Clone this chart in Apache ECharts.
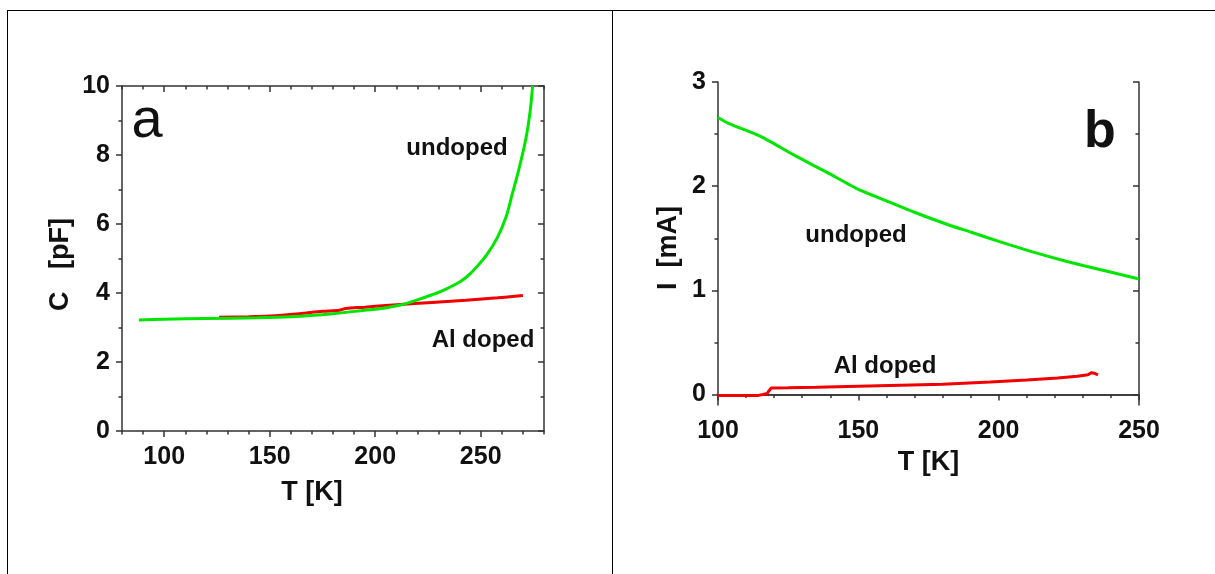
<!DOCTYPE html>
<html><head><meta charset="utf-8">
<script src="https://cdn.jsdelivr.net/npm/echarts@6/dist/echarts.min.js"></script>
<style>html,body{margin:0;padding:0;background:#fff}#c{width:1215px;height:574px}</style>
</head><body><div id="c"></div>
<script>
// ---- Panel a: capacitance vs temperature ----
const capUndoped = [[88,3.22],[100,3.24],[120,3.26],[144,3.28],[160,3.31],[180,3.40],[195,3.50],[204,3.56],[212,3.65],[220,3.80],[227,3.95],[232,4.07],[240,4.32],[244,4.50],[248,4.75],[253,5.12],[258,5.62],[262,6.20],[265,6.88],[268,7.56],[271.5,8.50],[273.5,9.30],[274.6,10.0]];
const capAlDoped = [[126,3.30],[140,3.31],[150,3.33],[164,3.40],[175,3.47],[183,3.50],[186,3.55],[195,3.59],[205,3.64],[212,3.67],[225,3.72],[243,3.79],[258,3.86],[270,3.93]];
const capTempMajor = [100,150,200,250];
const capTempMinor = [80,90,110,120,130,140,160,170,180,190,210,220,230,240,260,270,280];

// ---- Panel b: current vs temperature ----
const curUndoped = [[100,2.66],[104,2.60],[115,2.48],[127,2.30],[139,2.13],[150,1.97],[160,1.86],[170,1.75],[182,1.63],[190,1.56],[200,1.47],[212,1.37],[224,1.28],[236,1.20],[250,1.11]];
const curAlDoped = [[100,-0.01],[114,-0.01],[116,0.0],[117.5,0.01],[118,0.03],[119,0.064],[125,0.065],[135,0.07],[150,0.08],[165,0.09],[180,0.10],[197,0.12],[210,0.14],[221,0.16],[228,0.175],[231.8,0.19],[233,0.21],[234,0.205],[235.4,0.19]];
const curMajor = [0,1,2,3];
const curMinor = [0.5,1.5,2.5];

const FONT = '"Liberation Sans", Arial, sans-serif';
const AX = '#333';
const GREEN = '#00e600';
const RED = '#f00000';

function lineStyle(){ return {color: AX, width: 1.5}; }
function lbl(){ return {color:'#111', fontFamily: FONT, fontWeight:'bold', fontSize: 25}; }

const chart = echarts.init(document.getElementById('c'));
const option = {
  animation: false,
  backgroundColor: '#fff',
  grid: [
    {left: 122, top: 86, width: 422, height: 345},
    {left: 718, top: 82, width: 421, height: 323}
  ],
  xAxis: [
    {type:'value', gridIndex:0, min:80, max:280, position:'bottom',
     name:'T [K]', nameLocation:'middle', nameGap:48,
     nameTextStyle:{fontFamily:FONT, fontWeight:'bold', fontSize:27, color:'#111', padding:[0,42,0,0]},
     axisLine:{show:true, lineStyle:lineStyle()},
     axisTick:{show:true, length:6, lineStyle:lineStyle(), customValues:capTempMajor},
     axisLabel:Object.assign(lbl(), {margin:14, customValues:capTempMajor}),
     splitLine:{show:false}},
    {type:'value', gridIndex:0, min:80, max:280, position:'bottom',
     axisLine:{show:false}, axisLabel:{show:false}, splitLine:{show:false},
     axisTick:{show:true, length:3.5, lineStyle:lineStyle(), customValues:capTempMinor}},
    {type:'value', gridIndex:0, min:80, max:280, position:'top',
     axisLine:{show:true, lineStyle:lineStyle()}, axisLabel:{show:false}, splitLine:{show:false},
     axisTick:{show:true, inside:true, length:6, lineStyle:lineStyle(), customValues:capTempMajor}},
    {type:'value', gridIndex:0, min:80, max:280, position:'top',
     axisLine:{show:false}, axisLabel:{show:false}, splitLine:{show:false},
     axisTick:{show:true, inside:true, length:3.5, lineStyle:lineStyle(), customValues:capTempMinor}},
    {type:'value', gridIndex:1, min:100, max:250, interval:50, position:'bottom',
     name:'T [K]', nameLocation:'middle', nameGap:40,
     nameTextStyle:{fontFamily:FONT, fontWeight:'bold', fontSize:27, color:'#111'},
     axisLine:{show:true, lineStyle:lineStyle()},
     axisTick:{show:true, length:6, lineStyle:lineStyle()},
     minorTick:{show:true, splitNumber:5, length:3.5, lineStyle:lineStyle()},
     axisLabel:Object.assign(lbl(), {margin:14}),
     splitLine:{show:false}},
    {type:'value', gridIndex:1, min:100, max:250, interval:50, position:'top',
     axisLine:{show:true, lineStyle:lineStyle()}, axisLabel:{show:false}, splitLine:{show:false},
     axisTick:{show:true, inside:true, length:6, lineStyle:lineStyle()},
     minorTick:{show:true, splitNumber:5, length:3.5, lineStyle:lineStyle()}}
  ],
  yAxis: [
    {type:'value', gridIndex:0, min:0, max:10, interval:2, position:'left',
     name:'C   [pF]', nameLocation:'middle', nameGap:48, nameRotate:90,
     nameTextStyle:{fontFamily:FONT, fontWeight:'bold', fontSize:27, color:'#111', padding:[0,12,0,0]},
     axisLine:{show:true, lineStyle:lineStyle()},
     axisTick:{show:true, length:6, lineStyle:lineStyle()},
     minorTick:{show:true, splitNumber:2, length:3.5, lineStyle:lineStyle()},
     axisLabel:Object.assign(lbl(), {margin:12}),
     splitLine:{show:false}},
    {type:'value', gridIndex:0, min:0, max:10, interval:2, position:'right',
     axisLine:{show:true, lineStyle:lineStyle()}, axisLabel:{show:false}, splitLine:{show:false},
     axisTick:{show:true, inside:true, length:6, lineStyle:lineStyle()},
     minorTick:{show:true, splitNumber:2, length:3.5, lineStyle:lineStyle()}},
    {type:'value', gridIndex:1, min:-0.1, max:3, position:'left',
     name:'I  [mA]', nameLocation:'middle', nameGap:36, nameRotate:90,
     nameTextStyle:{fontFamily:FONT, fontWeight:'bold', fontSize:27, color:'#111', padding:[0,9,0,0]},
     axisLine:{show:true, lineStyle:lineStyle()},
     axisTick:{show:true, length:6, lineStyle:lineStyle(), customValues:curMajor},
     axisLabel:Object.assign(lbl(), {margin:12, customValues:curMajor}),
     splitLine:{show:false}},
    {type:'value', gridIndex:1, min:-0.1, max:3, position:'left',
     axisLine:{show:false}, axisLabel:{show:false}, splitLine:{show:false},
     axisTick:{show:true, length:3.5, lineStyle:lineStyle(), customValues:curMinor}},
    {type:'value', gridIndex:1, min:-0.1, max:3, position:'right',
     axisLine:{show:true, lineStyle:lineStyle()}, axisLabel:{show:false}, splitLine:{show:false},
     axisTick:{show:true, inside:true, length:6, lineStyle:lineStyle(), customValues:curMajor}},
    {type:'value', gridIndex:1, min:-0.1, max:3, position:'right',
     axisLine:{show:false}, axisLabel:{show:false}, splitLine:{show:false},
     axisTick:{show:true, inside:true, length:3.5, lineStyle:lineStyle(), customValues:curMinor}}
  ],
  series: [
    {name:'Al doped', type:'line', xAxisIndex:0, yAxisIndex:0, data:capAlDoped, showSymbol:false, smooth:0.3,
     lineStyle:{color:RED, width:3}, itemStyle:{color:RED}},
    {name:'undoped', type:'line', xAxisIndex:0, yAxisIndex:0, data:capUndoped, showSymbol:false, smooth:0.3,
     lineStyle:{color:GREEN, width:3}, itemStyle:{color:GREEN}},
    {name:'undoped', type:'line', xAxisIndex:4, yAxisIndex:2, data:curUndoped, showSymbol:false, smooth:0.2,
     lineStyle:{color:GREEN, width:3}, itemStyle:{color:GREEN}},
    {name:'Al doped', type:'line', xAxisIndex:4, yAxisIndex:2, data:curAlDoped, showSymbol:false,
     lineStyle:{color:RED, width:3}, itemStyle:{color:RED}}
  ],
  graphic: [
    {type:'line', shape:{x1:7, y1:10.5, x2:1215, y2:10.5}, style:{stroke:'#000', lineWidth:1}},
    {type:'line', shape:{x1:7.5, y1:10, x2:7.5, y2:574}, style:{stroke:'#000', lineWidth:1}},
    {type:'line', shape:{x1:612.5, y1:10, x2:612.5, y2:574}, style:{stroke:'#000', lineWidth:1}},
    {type:'text', style:{text:'a', x:147, y:122, textAlign:'center', textVerticalAlign:'middle', font:'56px '+FONT, fill:'#111'}},
    {type:'text', style:{text:'b', x:1100, y:133, textAlign:'center', textVerticalAlign:'middle', font:'bold 52px '+FONT, fill:'#111'}},
    {type:'text', style:{text:'undoped', x:457, y:148, textAlign:'center', textVerticalAlign:'middle', font:'bold 24px '+FONT, fill:'#111'}},
    {type:'text', style:{text:'Al doped', x:483, y:340, textAlign:'center', textVerticalAlign:'middle', font:'bold 24px '+FONT, fill:'#111'}},
    {type:'text', style:{text:'undoped', x:856, y:235, textAlign:'center', textVerticalAlign:'middle', font:'bold 24px '+FONT, fill:'#111'}},
    {type:'text', style:{text:'Al doped', x:885, y:366, textAlign:'center', textVerticalAlign:'middle', font:'bold 24px '+FONT, fill:'#111'}}
  ]
};
chart.setOption(option);
</script></body></html>
